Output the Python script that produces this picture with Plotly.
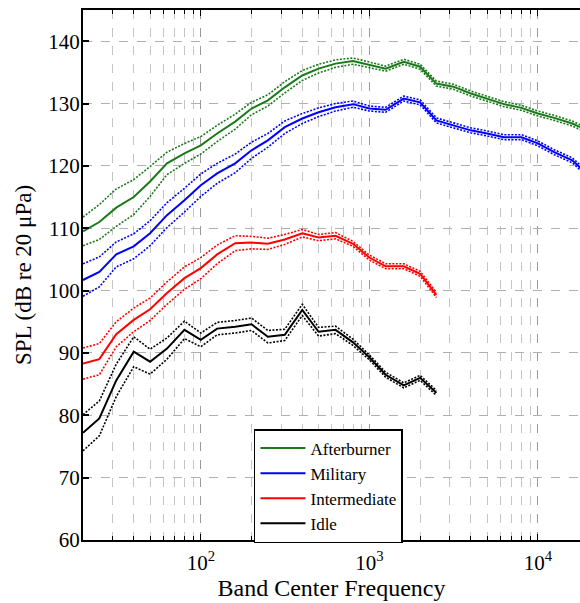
import plotly.graph_objects as go

freqs = [20, 25, 31.5, 40, 50, 63, 80, 100, 125, 160, 200, 250, 315, 400, 500, 630,
         800, 1000, 1250, 1600, 2000, 2500, 3150, 4000, 5000, 6300, 8000, 10000,
         12500, 16000, 20000]

afterburner = [109.5, 111.0, 113.3, 115.0, 117.5, 120.4, 122.0, 123.3, 125.2, 127.1,
               129.2, 130.5, 132.6, 134.5, 135.6, 136.4, 136.8, 136.2, 135.6, 136.7,
               135.9, 133.2, 132.7, 131.6, 130.8, 129.9, 129.3, 128.4, 127.7, 126.8, 125.6]
afterburner_ci = [2.3, 2.8, 3.0, 2.8, 2.4, 1.8, 1.6, 1.4, 1.3, 1.2, 1.0, 0.9, 0.9, 0.8,
                  0.7, 0.6, 0.5, 0.5, 0.4, 0.4, 0.4, 0.4, 0.4, 0.4, 0.4, 0.4, 0.4, 0.4,
                  0.4, 0.4, 0.4]

military = [101.7, 103.0, 105.8, 107.1, 109.2, 112.1, 114.5, 116.9, 118.8, 120.4,
            122.5, 124.1, 126.2, 127.6, 128.6, 129.4, 129.9, 129.2, 129.0, 130.8,
            130.2, 127.3, 126.5, 125.7, 125.2, 124.6, 124.6, 123.6, 122.2, 120.9, 118.5]
military_ci = [2.6, 2.4, 2.0, 2.0, 2.0, 2.0, 1.9, 1.8, 1.6, 1.5, 1.3, 1.1, 1.0, 0.8,
               0.7, 0.6, 0.5, 0.4, 0.4, 0.4, 0.4, 0.4, 0.4, 0.4, 0.4, 0.4, 0.4, 0.4,
               0.4, 0.4, 0.4]

intermediate = [88.3, 89.0, 93.0, 95.3, 97.0, 99.6, 102.0, 103.6, 105.8, 107.6, 107.7,
                107.5, 108.2, 109.2, 108.5, 108.8, 107.5, 105.3, 103.9, 103.9, 102.7, 99.3]
intermediate_ci = [2.5, 2.5, 2.0, 1.9, 1.8, 1.8, 1.8, 1.7, 1.5, 1.2, 1.0, 0.9, 0.8, 0.6,
                   0.5, 0.5, 0.4, 0.4, 0.4, 0.4, 0.4, 0.4]

idle = [77.2, 79.5, 85.6, 90.2, 88.6, 90.7, 93.7, 92.1, 93.9, 94.2, 94.6, 92.6, 92.9,
        96.9, 93.4, 93.7, 91.7, 89.3, 86.5, 84.8, 86.0, 83.6]
idle_ci = [2.9, 2.8, 2.6, 2.4, 2.0, 1.7, 1.4, 1.1, 1.0, 1.0, 1.0, 1.0, 0.9, 0.9, 0.7,
           0.6, 0.5, 0.4, 0.4, 0.4, 0.4, 0.4]

series = [
    ("Afterburner", afterburner, afterburner_ci, "#1a7a1a"),
    ("Military", military, military_ci, "#0000ff"),
    ("Intermediate", intermediate, intermediate_ci, "#ff0000"),
    ("Idle", idle, idle_ci, "#000000"),
]

x_tickvals = [100, 1000, 10000]
x_ticktext = ["10<sup>2</sup>", "10<sup>3</sup>", "10<sup>4</sup>"]
y_tickvals = [60, 70, 80, 90, 100, 110, 120, 130, 140]

FONT = "Liberation Serif"

fig = go.Figure()
for name, vals, ci, color in series:
    x = freqs[:len(vals)]
    upper = [v + c for v, c in zip(vals, ci)]
    lower = [v - c for v, c in zip(vals, ci)]
    for b in (upper, lower):
        fig.add_trace(go.Scatter(
            x=x, y=b, mode="lines", showlegend=False, hoverinfo="skip",
            line=dict(color=color, width=1.6, dash="2px,1.5px")))
    fig.add_trace(go.Scatter(
        x=x, y=vals, mode="lines", name=name,
        line=dict(color=color, width=2)))

fig.update_layout(
    width=580, height=603,
    margin=dict(l=83, r=0, t=10, b=63),
    paper_bgcolor="white", plot_bgcolor="white",
    font=dict(family=FONT, size=19, color="black"),
    showlegend=True,
    legend=dict(
        x=0.344, y=0.2094, xanchor="left", yanchor="top",
        bgcolor="white", bordercolor="black", borderwidth=1.5,
        font=dict(family=FONT, size=17, color="black"),
        tracegroupgap=0, itemwidth=45,
    ),
)

fig.update_xaxes(
    type="log", range=[1.30103, 4.25], automargin=False,
    tickmode="array", tickvals=x_tickvals, ticktext=x_ticktext,
    tickfont=dict(family=FONT, size=21, color="black"), ticklabelstandoff=3,
    ticks="inside", ticklen=6, tickcolor="black", tickwidth=1,
    showline=True, linecolor="black", linewidth=2, mirror="ticks",
    showgrid=True, gridcolor="#9a9a9a", gridwidth=1, griddash="dash",
    minor=dict(dtick="D1", ticks="inside", ticklen=4, tickcolor="black",
               showgrid=True, gridcolor="#c4c4c4", gridwidth=1, griddash="dash"),
    title=dict(text="Band Center Frequency", font=dict(family=FONT, size=24), standoff=4),
    zeroline=False,
)
fig.update_yaxes(
    range=[60, 145], tickmode="array", tickvals=y_tickvals, automargin=False,
    tickfont=dict(family=FONT, size=21, color="black"), ticklabelstandoff=-3,
    ticks="inside", ticklen=6, tickcolor="black", tickwidth=1.5,
    showline=True, linecolor="black", linewidth=2, mirror=False,
    showgrid=True, gridcolor="#b0b0b0", gridwidth=1, griddash="dash",
    title=dict(text="SPL (dB re 20 μPa)", font=dict(family=FONT, size=23), standoff=10),
    zeroline=False,
)

fig.write_html("out.html", config={"displayModeBar": False},
               post_script="document.body.style.margin='0';")
